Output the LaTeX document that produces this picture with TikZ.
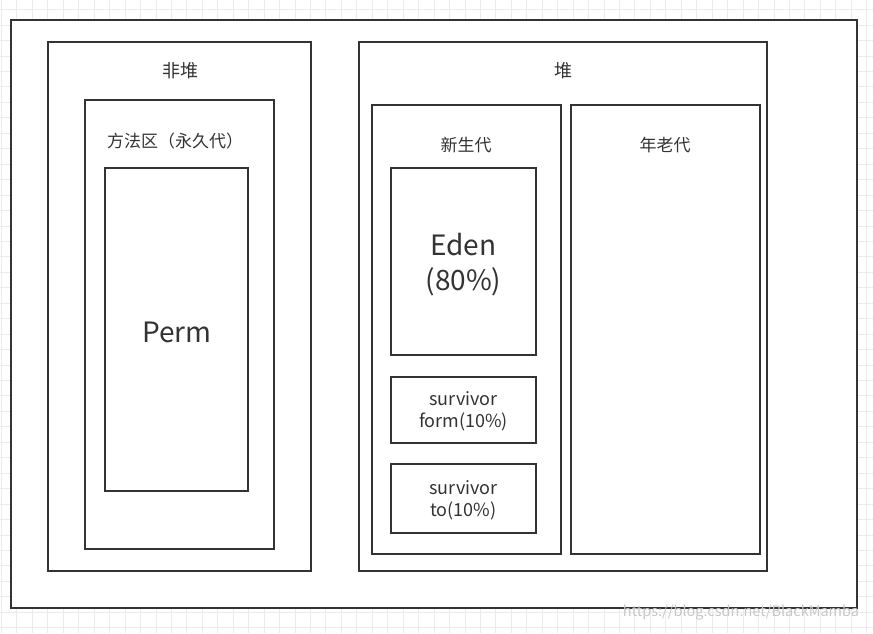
\documentclass[tikz,border=0pt]{standalone}
\usepackage{fontspec}
\setmainfont{Noto Sans CJK SC}
\definecolor{ink}{HTML}{333333}
\definecolor{gridc}{HTML}{EBEBEB}
\begin{document}
\begin{tikzpicture}[x=1pt,y=-1pt,
  box/.style={draw=ink,line width=2pt,rectangle,inner sep=0pt,fill=white},
  lbl/.style={text=ink,inner sep=0pt,font=\fontsize{17}{21}\selectfont},
  big/.style={text=ink,inner sep=0pt,align=center,font=\fontsize{28}{35}\selectfont},
  small/.style={text=ink,inner sep=0pt,align=center,font=\fontsize{18}{22}\selectfont},
  gridline/.style={draw=gridc,line width=1pt}]
\useasboundingbox (0,0) rectangle (873,633);
\begin{scope}
\clip (0,0) rectangle (873,633);
\foreach \i in {0,...,57} \draw[gridline] ({1.5+15.45*\i},0) -- ({1.5+15.45*\i},633);
\foreach \j in {0,...,41} \draw[gridline] (0,{9.7+15.45*\j}) -- (873,{9.7+15.45*\j});
\end{scope}
\node[box,minimum width=846pt,minimum height=588pt] (outer) at (434,314) {};
\node[box,minimum width=263pt,minimum height=529pt] (nonheap) at (179.5,306.5) {};
\node[box,minimum width=189pt,minimum height=449pt] (method) at (179.5,324.5) {};
\node[box,minimum width=143pt,minimum height=323pt] (perm) at (176.5,329.5) {};
\node[box,minimum width=408pt,minimum height=529pt] (heap) at (563,306.5) {};
\node[box,minimum width=189pt,minimum height=449pt] (young) at (466.5,329.5) {};
\node[box,minimum width=189pt,minimum height=449pt] (old) at (665.5,329.5) {};
\node[box,minimum width=145pt,minimum height=187pt] (eden) at (463.5,261.5) {};
\node[box,minimum width=145pt,minimum height=66pt] (s1) at (463.5,410) {};
\node[box,minimum width=145pt,minimum height=69pt] (s2) at (463.5,498.5) {};
\node[lbl,font=\fontsize{18}{22}\selectfont] (tnonheap) at (180,71) {非堆};
\node[lbl] (tmethod) at (175,141) {方法区（永久代）};
\node[big] (tperm) at (177,332) {Perm};
\node[lbl,font=\fontsize{18}{22}\selectfont] (theap) at (563,71) {堆};
\node[lbl] (tyoung) at (466,145) {新生代};
\node[lbl] (told) at (665,145) {年老代};
\node[big] (teden) at (463.5,265) {Eden\\(80\%)};
\node[small] (ts1) at (463.5,411) {survivor\\form(10\%)};
\node[small] (ts2) at (463.5,500) {survivor\\to(10\%)};
\node[text=black!22,inner sep=0pt,font=\fontsize{14.5}{17}\selectfont] (wm) at (741,613) {https://blog.csdn.net/BlackMamba};
\end{tikzpicture}
\end{document}
